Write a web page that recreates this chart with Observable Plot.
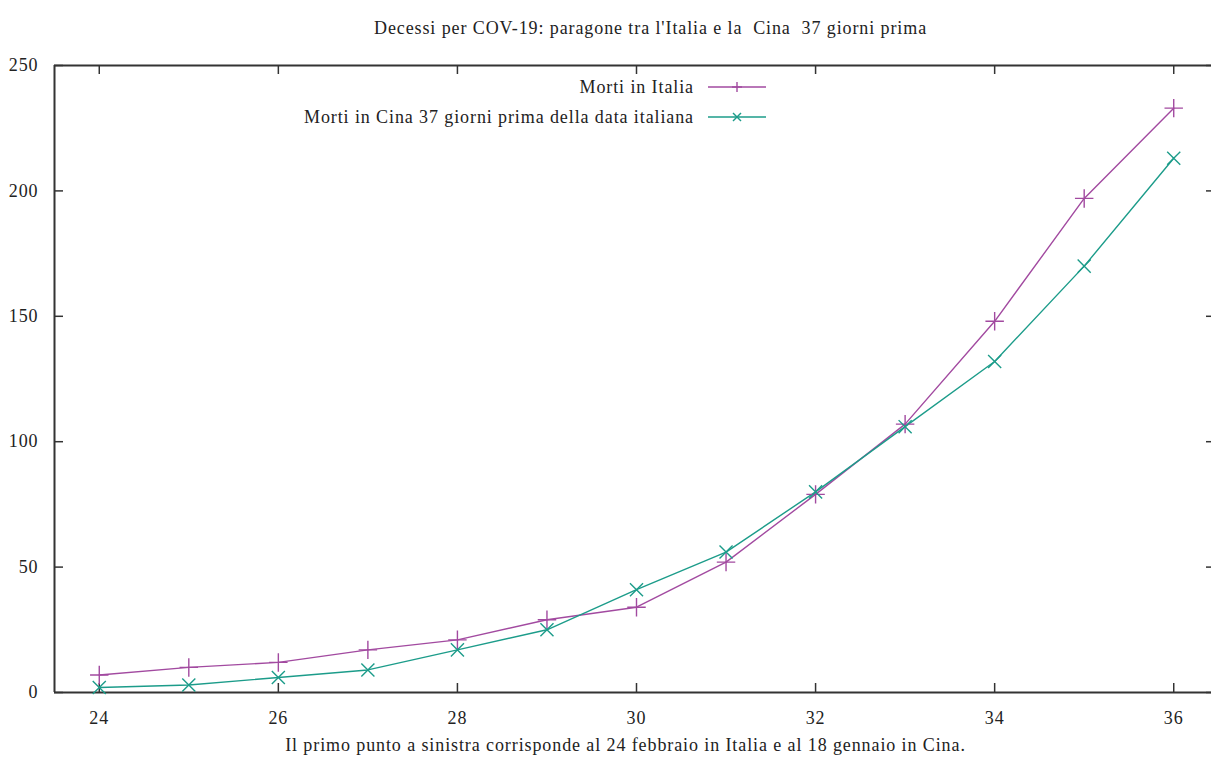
<!DOCTYPE html>
<html>
<head>
<meta charset="utf-8">
<script src="https://cdn.jsdelivr.net/npm/d3@7"></script>
<script src="https://cdn.jsdelivr.net/npm/@observablehq/plot@0.6"></script>
<style>
  body { margin: 0; background: #fff; font-family: "Liberation Serif", "DejaVu Serif", serif; color: #222; letter-spacing: 0.9px; }
  #title { width: 1211px; height: 48px; box-sizing: border-box; padding-top: 18px; padding-left: 90px; line-height: 20px; font-size: 18px; text-align: center; white-space: pre; }
  #chart { position: relative; width: 1211px; height: 686px; }
  #chart > svg text { letter-spacing: 0.9px; }
  #legend { position: absolute; left: 0; top: 0; width: 1211px; height: 0; }
  .item { position: absolute; right: 445px; display: flex; align-items: center; font-size: 18px; line-height: 20px; white-space: pre; }
  .item svg { margin-left: 14px; }
  #caption { width: 1211px; height: 38px; box-sizing: border-box; padding-left: 40px; line-height: 22px; font-size: 18px; text-align: center; }
</style>
</head>
<body>
<div id="title">Decessi per COV-19: paragone tra l'Italia e la  Cina  37 giorni prima</div>
<div id="chart"><div id="legend"></div></div>
<div id="caption">Il primo punto a sinistra corrisponde al 24 febbraio in Italia e al 18 gennaio in Cina.</div>
<script>
// ---- data ----
const days = [24, 25, 26, 27, 28, 29, 30, 31, 32, 33, 34, 35, 36];
const mortiItalia = [7, 10, 12, 17, 21, 29, 34, 52, 79, 107, 148, 197, 233];
const mortiCina = [2, 3, 6, 9, 17, 25, 41, 56, 80, 106, 132, 170, 213];
const seriesNames = ["Morti in Italia", "Morti in Cina 37 giorni prima della data italiana"];
const seriesColors = ["#a24aa0", "#1c9c8a"];
const seriesSymbols = ["plus", "times"];
const xTicks = [24, 26, 28, 30, 32, 34, 36];
const yTicks = [0, 50, 100, 150, 200, 250];
const xDomain = [23.5, 36.5];
const yDomain = [0, 250];

const data = [mortiItalia, mortiCina].flatMap((vals, s) =>
  days.map((d, i) => ({ day: d, deaths: vals[i], serie: seriesNames[s] })));

const W = 1211, H = 686;
const mL = 54, mR = 0, mT = 17, mB = 42;
const innerW = W - mL - mR, innerH = H - mT - mB;
const axisColor = "#333";

const chart = Plot.plot({
  width: W, height: H,
  marginLeft: mL, marginRight: mR, marginTop: mT, marginBottom: mB,
  style: { fontFamily: "Liberation Serif, serif", fontSize: "18px", color: "#222", background: "#fff" },
  x: { domain: xDomain, range: [mL, 1218], label: null },
  y: { domain: yDomain, label: null },
  color: { domain: seriesNames, range: seriesColors },
  symbol: { domain: seriesNames, range: seriesSymbols },
  marks: [
    Plot.axisX(xTicks, { tickSize: 0, tickPadding: 19, fontSize: 18, tickFormat: d => d, label: null }),
    Plot.axisY(yTicks, { tickSize: 0, tickPadding: 16, fontSize: 18, tickFormat: d => d, label: null }),
    // inward ticks
    Plot.tickX(xTicks, { x: d => d, insetTop: innerH - 9, stroke: axisColor, strokeWidth: 1.5 }),
    Plot.tickX(xTicks, { x: d => d, insetBottom: innerH - 9, stroke: axisColor, strokeWidth: 1.5 }),
    Plot.tickY(yTicks, { y: d => d, insetRight: innerW - 9, stroke: axisColor, strokeWidth: 1.5 }),
    Plot.tickY(yTicks, { y: d => d, insetLeft: innerW - 5, stroke: axisColor, strokeWidth: 1.5 }),
    // border (left, top, bottom)
    Plot.ruleX([xDomain[0]], { stroke: axisColor, strokeWidth: 2 }),
    Plot.ruleY(yDomain, { stroke: axisColor, strokeWidth: 2 }),
    Plot.line(data, { x: "day", y: "deaths", stroke: "serie", strokeWidth: 1.4 }),
    Plot.dot(data, { x: "day", y: "deaths", stroke: "serie", symbol: "serie", r: 6, strokeWidth: 1.4 })
  ]
});
document.getElementById("chart").prepend(chart);

// legend overlay
const legend = document.getElementById("legend");
const legendTops = [29, 59];
seriesNames.forEach((name, i) => {
  const div = document.createElement("div");
  div.className = "item";
  div.style.top = legendTops[i] + "px";
  div.textContent = name;
  const sym = d3.create("svg").attr("width", 58).attr("height", 14);
  sym.append("line").attr("x1", 0).attr("x2", 58).attr("y1", 7).attr("y2", 7)
    .attr("stroke", seriesColors[i]).attr("stroke-width", 1.4);
  const g = sym.append("g").attr("transform", "translate(29,7)")
    .attr("stroke", seriesColors[i]).attr("stroke-width", 1.4);
  if (seriesSymbols[i] === "plus") {
    g.append("line").attr("x1", -5).attr("x2", 5).attr("y1", 0).attr("y2", 0);
    g.append("line").attr("x1", 0).attr("x2", 0).attr("y1", -5).attr("y2", 5);
  } else {
    g.append("line").attr("x1", -4).attr("x2", 4).attr("y1", -4).attr("y2", 4);
    g.append("line").attr("x1", -4).attr("x2", 4).attr("y1", 4).attr("y2", -4);
  }
  div.appendChild(sym.node());
  legend.appendChild(div);
});
</script>
</body>
</html>
